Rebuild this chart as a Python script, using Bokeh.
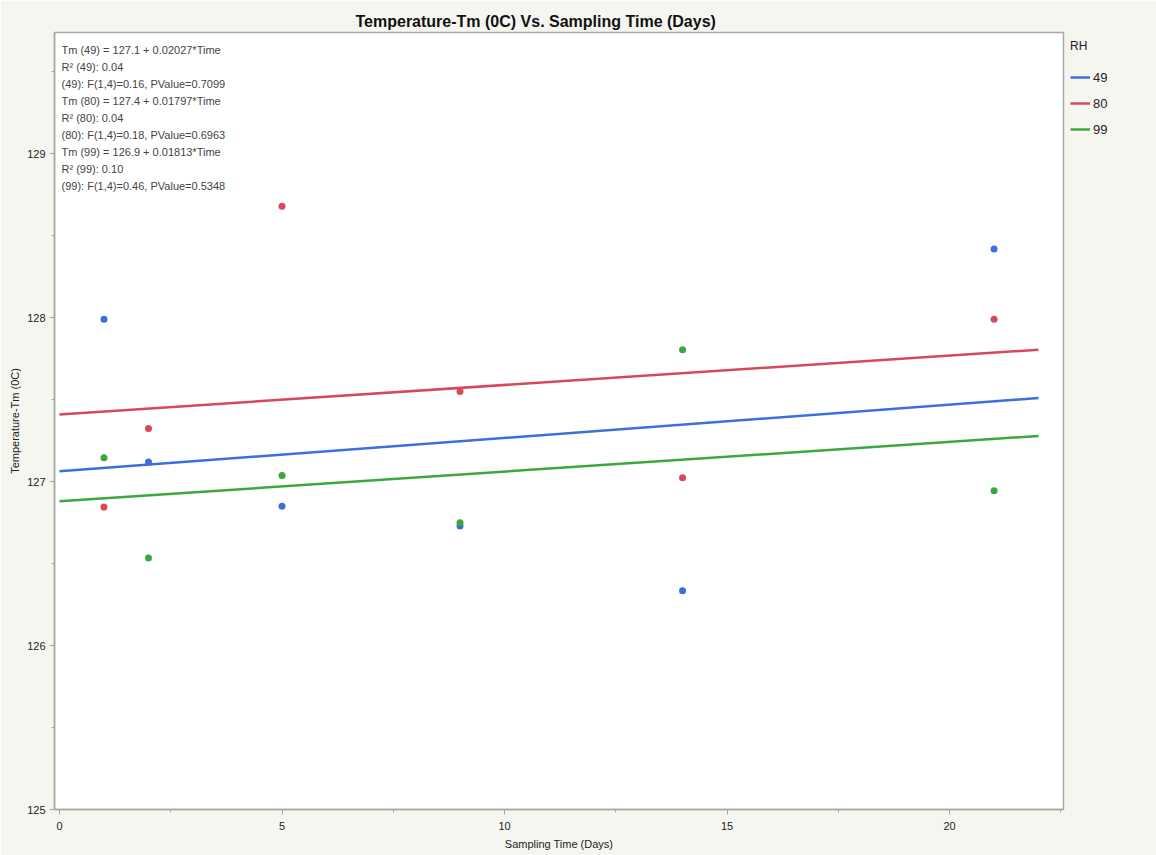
import numpy as np
from bokeh.plotting import figure
from bokeh.models import Range1d, SingleIntervalTicker, Legend, LegendItem, Label
from bokeh.embed import file_html
from bokeh.resources import INLINE

# Melting temperature (Tm, degC) per relative-humidity level over sampling days
days = [1, 2, 5, 9, 14, 21]
rh_levels = ["49", "80", "99"]
tm_49 = [127.99, 127.12, 126.85, 126.73, 126.335, 128.42]
tm_80 = [126.845, 127.325, 128.68, 127.55, 127.024, 127.99]
tm_99 = [127.146, 126.535, 127.037, 126.75, 127.805, 126.945]

# Linear fit summary per RH level
intercepts = [127.064, 127.41, 126.88]
slopes = [0.02027, 0.01797, 0.01813]
r_squared = [0.04, 0.04, 0.10]
f_values = [0.16, 0.18, 0.46]
p_values = [0.7099, 0.6963, 0.5348]
fit_span = [0, 22]

colors = ["#3d6fda", "#d6495b", "#3aa93d"]
FONT = "Liberation Sans"
BG = "#f6f6f1"
AXIS_GREY = "#a8a8a8"

W, H = 1156, 855
B_LEFT, B_RIGHT, B_TOP, B_BOTTOM = 54, 93, 32, 46
frame_w = W - B_LEFT - B_RIGHT
frame_h = H - B_TOP - B_BOTTOM

p = figure(
    frame_width=frame_w, frame_height=frame_h,
    x_range=Range1d(-0.112, 22.56), y_range=Range1d(125, 129.74),
    output_backend="svg", toolbar_location=None,
    min_border_left=B_LEFT, min_border_right=B_RIGHT,
    min_border_top=B_TOP, min_border_bottom=B_BOTTOM,
)
p.background_fill_color = "white"
p.border_fill_color = BG
p.outline_line_color = AXIS_GREY
p.outline_line_width = 1.5
p.grid.visible = False

p.title.text = "Temperature-Tm (0C) Vs. Sampling Time (Days)"
p.title.align = "left"
p.title.offset = 301
p.title.standoff = 6
p.title.text_font = FONT
p.title.text_font_size = "16px"
p.title.text_font_style = "bold"
p.title.text_color = "#111111"

p.xaxis.ticker = SingleIntervalTicker(interval=5, num_minor_ticks=2)
p.yaxis.ticker = SingleIntervalTicker(interval=1, num_minor_ticks=2)
p.xaxis.axis_label = "Sampling Time (Days)"
p.yaxis.axis_label = "Temperature-Tm (0C)"
for ax in (p.xaxis, p.yaxis):
    ax.axis_line_color = AXIS_GREY
    ax.axis_line_width = 1.5
    ax.major_tick_line_color = AXIS_GREY
    ax.minor_tick_line_color = AXIS_GREY
    ax.major_tick_out = 5
    ax.major_tick_in = 0
    ax.minor_tick_out = 3
    ax.minor_tick_in = 0
    ax.major_label_text_font = FONT
    ax.major_label_text_font_size = "11px"
    ax.major_label_text_color = "#222222"
    ax.axis_label_text_font = FONT
    ax.axis_label_text_font_size = "11px"
    ax.axis_label_text_font_style = "normal"
    ax.axis_label_text_color = "#222222"
p.xaxis.major_label_standoff = 7
p.xaxis.axis_label_standoff = 5
p.yaxis.major_label_standoff = 4
p.yaxis.axis_label_standoff = 3

series = [tm_49, tm_80, tm_99]
items = []
for name, tm, b0, b1, col in zip(rh_levels, series, intercepts, slopes, colors):
    fx = np.array(fit_span, dtype=float)
    fy = b0 + b1 * fx
    ln = p.line(fx, fy, line_color=col, line_width=2.5)
    p.scatter(days, tm, size=7, fill_color=col, line_color=None)
    items.append(LegendItem(label=name, renderers=[ln]))

# Legend in the right-hand margin, aligned with the top of the plot area
legend = Legend(
    items=items, title="RH", location="top_left",
    margin=7, padding=7, border_line_color=None, background_fill_alpha=0,
    label_text_font=FONT, label_text_font_size="13px", label_text_color="#222222",
    title_text_font=FONT, title_text_font_size="12px", title_text_font_style="normal",
    title_text_color="#222222", title_standoff=14,
    glyph_width=20, glyph_height=20, label_height=20, spacing=6, label_standoff=3,
)
p.add_layout(legend, "right")

# Fit equations and statistics in the upper-left corner of the plot area
lines = []
for name, b0, b1, r2, fv, pv in zip(rh_levels, intercepts, slopes, r_squared, f_values, p_values):
    lines.append(f"Tm ({name}) = {b0:.1f} + {b1:.5f}*Time")
    lines.append(f"R\u00b2 ({name}): {r2:.2f}")
    lines.append(f"({name}): F(1,4)={fv:.2f}, PValue={pv:.4f}")

for i, txt in enumerate(lines):
    p.add_layout(Label(
        x=7, y=frame_h - 17 - 17 * i, x_units="screen", y_units="screen",
        text=txt, text_font=FONT, text_font_size="11px", text_color="#444444",
        text_baseline="middle",
    ))

open("out.html", "w").write(file_html(p, INLINE))
